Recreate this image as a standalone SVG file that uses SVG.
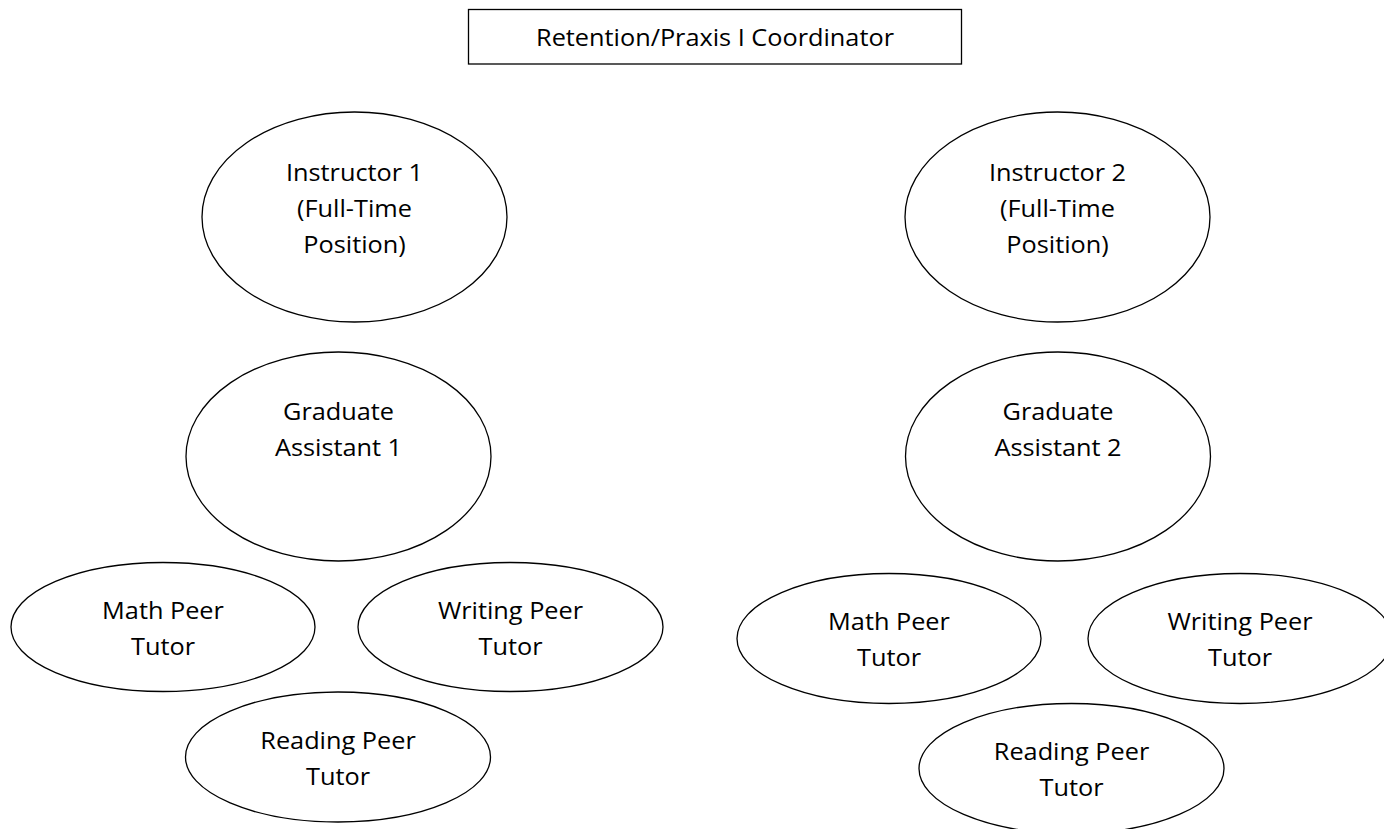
<svg xmlns="http://www.w3.org/2000/svg" width="1384" height="829" viewBox="0 0 1384 829">
<style>
.shape{fill:#ffffff;stroke:#000000;stroke-width:1.3}
.lbl{font-family:"Open Sans","Liberation Sans",sans-serif;font-size:23px;fill:#000000;text-anchor:middle}
</style>
<rect x="0" y="0" width="1384" height="829" fill="#ffffff"/>
<g id="connectors"></g>
<g id="coordinator">
<rect class="shape" x="468.5" y="9.5" width="493" height="54.5"/>
<text class="lbl" transform="translate(715 46) scale(1.1 1)"><tspan x="0" y="0">Retention/Praxis I Coordinator</tspan></text>
</g>
<g id="instructor1">
<ellipse class="shape" cx="354.5" cy="217" rx="152.5" ry="105"/>
<text class="lbl" transform="translate(354.5 0) scale(1.1 1)"><tspan x="0" y="181">Instructor 1</tspan><tspan x="0" y="217">(Full-Time</tspan><tspan x="0" y="253">Position)</tspan></text>
</g>
<g id="instructor2">
<ellipse class="shape" cx="1057.5" cy="217" rx="152.5" ry="105"/>
<text class="lbl" transform="translate(1057.5 0) scale(1.1 1)"><tspan x="0" y="181">Instructor 2</tspan><tspan x="0" y="217">(Full-Time</tspan><tspan x="0" y="253">Position)</tspan></text>
</g>
<g id="graduate1">
<ellipse class="shape" cx="338.5" cy="456.5" rx="152.5" ry="104.5"/>
<text class="lbl" transform="translate(338.5 0) scale(1.1 1)"><tspan x="0" y="420">Graduate</tspan><tspan x="0" y="456">Assistant 1</tspan></text>
</g>
<g id="graduate2">
<ellipse class="shape" cx="1058" cy="456.5" rx="152.5" ry="104.5"/>
<text class="lbl" transform="translate(1058 0) scale(1.1 1)"><tspan x="0" y="420">Graduate</tspan><tspan x="0" y="456">Assistant 2</tspan></text>
</g>
<g id="math1">
<ellipse class="shape" cx="163" cy="627" rx="152" ry="64.5"/>
<text class="lbl" transform="translate(163 0) scale(1.1 1)"><tspan x="0" y="619">Math Peer</tspan><tspan x="0" y="655">Tutor</tspan></text>
</g>
<g id="writing1">
<ellipse class="shape" cx="510.5" cy="627" rx="152.5" ry="64.5"/>
<text class="lbl" transform="translate(510.5 0) scale(1.1 1)"><tspan x="0" y="619">Writing Peer</tspan><tspan x="0" y="655">Tutor</tspan></text>
</g>
<g id="reading1">
<ellipse class="shape" cx="338" cy="757" rx="152.5" ry="65"/>
<text class="lbl" transform="translate(338 0) scale(1.1 1)"><tspan x="0" y="749">Reading Peer</tspan><tspan x="0" y="785">Tutor</tspan></text>
</g>
<g id="math2">
<ellipse class="shape" cx="889" cy="638.5" rx="152" ry="65"/>
<text class="lbl" transform="translate(889 0) scale(1.1 1)"><tspan x="0" y="630">Math Peer</tspan><tspan x="0" y="666">Tutor</tspan></text>
</g>
<g id="writing2">
<ellipse class="shape" cx="1240" cy="638.5" rx="152" ry="65"/>
<text class="lbl" transform="translate(1240 0) scale(1.1 1)"><tspan x="0" y="630">Writing Peer</tspan><tspan x="0" y="666">Tutor</tspan></text>
</g>
<g id="reading2">
<ellipse class="shape" cx="1071.5" cy="768.5" rx="152.5" ry="65"/>
<text class="lbl" transform="translate(1071.5 0) scale(1.1 1)"><tspan x="0" y="760">Reading Peer</tspan><tspan x="0" y="796">Tutor</tspan></text>
</g>
</svg>
